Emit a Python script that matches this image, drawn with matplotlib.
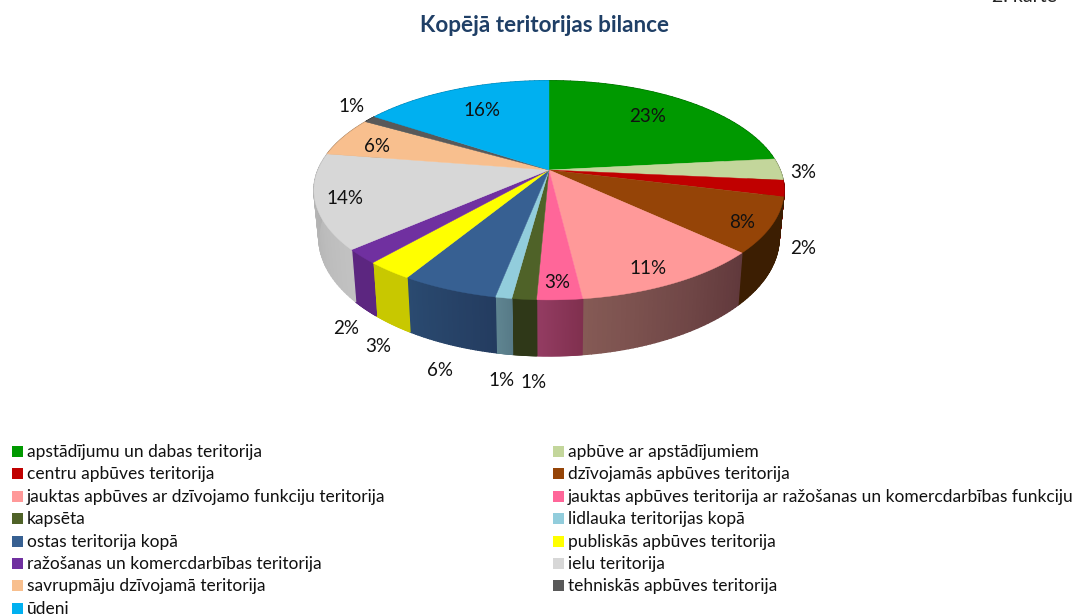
import numpy as np
import matplotlib
matplotlib.use("Agg")
import matplotlib.pyplot as plt
from matplotlib.collections import PolyCollection
from matplotlib.colors import to_rgb
from matplotlib.patches import Polygon, Rectangle

plt.rcParams["font.family"] = ["Lato", "DejaVu Sans"]

TITLE = "Kopējā teritorijas bilance"
CORNER_TEXT = "2. karte"

categories = [
    "apstādījumu un dabas teritorija",
    "apbūve ar apstādījumiem",
    "centru apbūves teritorija",
    "dzīvojamās apbūves teritorija",
    "jauktas apbūves ar dzīvojamo funkciju teritorija",
    "jauktas apbūves teritorija ar ražošanas un komercdarbības funkciju",
    "kapsēta",
    "lidlauka teritorijas kopā",
    "ostas teritorija kopā",
    "publiskās apbūves teritorija",
    "ražošanas un komercdarbības teritorija",
    "ielu teritorija",
    "savrupmāju dzīvojamā teritorija",
    "tehniskās apbūves teritorija",
    "ūdeni",
]
shares = [23.3, 3.2, 2.4, 8.1, 11.1, 2.6, 1.4, 0.95, 5.6, 2.75, 2.1, 14.0, 5.8, 1.05, 15.65]

top_colors = [
    "#009900", "#C3D69B", "#C00000", "#954407", "#FF9999",
    "#FF6699", "#4F6228", "#92CDDC", "#376092", "#FFFF00",
    "#7030A0", "#D7D7D7", "#F8BF8E", "#595959", "#00B0F0",
]
# side wall colours, at the start and end of each slice (clockwise)
side_start = [
    "#006600", "#8C9A6F", "#8A0000", "#3C1E02", "#61393C",
    "#80304F", "#2F3818", "#577A87", "#243C60", "#C8C800",
    "#5C2680", "#C2C2C2", "#B08A68", "#3C3C3C", "#007FAD",
]
side_end = [
    "#006600", "#8C9A6F", "#8A0000", "#3C1E02", "#855A55",
    "#943C62", "#2F3818", "#5F8591", "#2A4A70", "#C8C800",
    "#5C2680", "#ADADAD", "#B08A68", "#3C3C3C", "#007FAD",
]
label_xy = [
    (648, 116), (803, 173), (803, 249), (742, 223), (648, 268),
    (557, 283), (533, 382), (502, 381), (440, 371), (378, 346),
    (346, 329), (345, 198), (377, 146), (351, 107), (482, 111),
]

# perspective of the pie, in pixels
CX, CY = 549, 170
R = 231
A = 105.8
K = 0.1856
DEPTH = 45.6
SHRINK = 0.979


def project(t):
    w = 1 + K * np.sin(t)
    return CX + R * np.cos(t) / w, CY - A * np.sin(t) / w


def project_bottom(t):
    w = 1 + K * np.sin(t)
    return CX + SHRINK * R * np.cos(t) / w, CY - A * np.sin(t) / w + DEPTH / w


fig = plt.figure(figsize=(10.73, 6.14), dpi=100)
ax = fig.add_axes([0, 0, 1, 1])
ax.set_xlim(0, 1073)
ax.set_ylim(614, 0)
ax.axis("off")

# slice edges, clockwise from twelve o'clock
edges = np.pi / 2 - 2 * np.pi * np.cumsum([0] + shares) / sum(shares)

for i in range(len(shares)):
    ts = np.linspace(edges[i], edges[i + 1], 41)
    strips = []
    colors = []
    c0, c1 = np.array(to_rgb(side_start[i])), np.array(to_rgb(side_end[i]))
    for j in range(len(ts) - 1):
        x0, y0 = project(ts[j])
        x1, y1 = project(ts[j + 1])
        x2, y2 = project_bottom(ts[j + 1])
        x3, y3 = project_bottom(ts[j])
        strips.append([(x0, y0), (x1, y1), (x2, y2), (x3, y3)])
        colors.append(c0 + (c1 - c0) * j / (len(ts) - 2))
    ax.add_collection(PolyCollection(strips, facecolors=colors, edgecolors=colors, linewidths=1.0, zorder=1))

for i in range(len(shares)):
    ts = np.linspace(edges[i], edges[i + 1], 81)
    xs, ys = project(ts)
    pts = np.vstack([[CX, CY], np.column_stack([xs, ys])])
    ax.add_patch(Polygon(pts, closed=True, facecolor=top_colors[i], edgecolor=top_colors[i], linewidth=0.3, zorder=2))

for share, (x, y) in zip(shares, label_xy):
    ax.text(x, y, f"{share:.0f}%", ha="center", va="center", fontsize=13.5, color="#111111", zorder=3)

ax.text(544, 25, TITLE, ha="center", va="center", fontsize=16.2, fontweight="bold", color="#1F3F66")
ax.text(992, 2, CORNER_TEXT, ha="left", va="baseline", fontsize=14, color="#222222")

# legend, filled row by row
COL_X = [12, 553]
ROW_Y = 452
ROW_STEP = 22.4
for i, name in enumerate(categories):
    x = COL_X[i % 2]
    y = ROW_Y + ROW_STEP * (i // 2)
    ax.add_patch(Rectangle((x, y - 6), 11, 11, facecolor=top_colors[i], edgecolor="none"))
    ax.text(x + 15, y, name, ha="left", va="center", fontsize=12.5, color="#111111")

plt.savefig("out.png", dpi=100)
